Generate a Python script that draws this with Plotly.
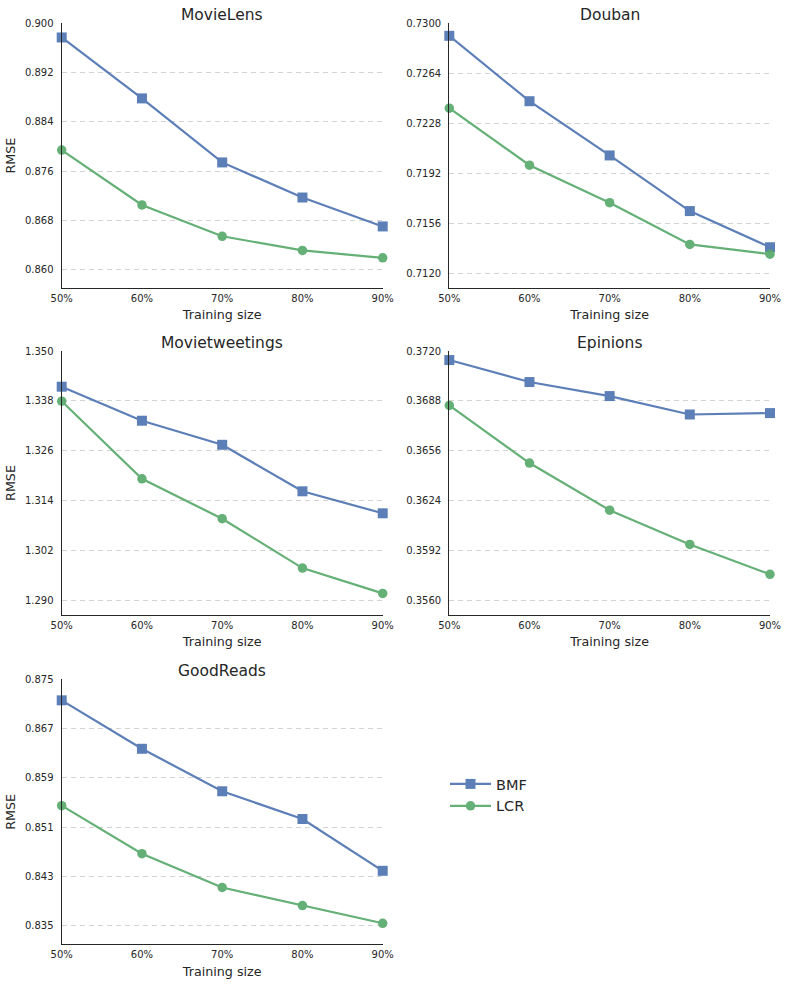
import plotly.graph_objects as go
from plotly.subplots import make_subplots

training_sizes = [50, 60, 70, 80, 90]
x_tick_labels = ["50%", "60%", "70%", "80%", "90%"]
series_names = ["BMF", "LCR"]
dataset_titles = ["MovieLens", "Douban", "Movietweetings", "Epinions", "GoodReads"]

movielens_bmf = [0.8977, 0.8878, 0.8774, 0.8717, 0.8670]
movielens_lcr = [0.8794, 0.8705, 0.8654, 0.8631, 0.8619]
douban_bmf = [0.7291, 0.7244, 0.7205, 0.7165, 0.7139]
douban_lcr = [0.7239, 0.7198, 0.7171, 0.7141, 0.7134]
movietweetings_bmf = [1.3414, 1.3332, 1.3274, 1.3162, 1.3109]
movietweetings_lcr = [1.3379, 1.3192, 1.3096, 1.2977, 1.2916]
epinions_bmf = [0.37142, 0.37001, 0.36911, 0.36793, 0.36802]
epinions_lcr = [0.36851, 0.36482, 0.36180, 0.35960, 0.35769]
goodreads_bmf = [0.87159, 0.86373, 0.85684, 0.85234, 0.84394]
goodreads_lcr = [0.85451, 0.84671, 0.84123, 0.83831, 0.83543]

movielens_ticks = ["0.860", "0.868", "0.876", "0.884", "0.892", "0.900"]
douban_ticks = ["0.7120", "0.7156", "0.7192", "0.7228", "0.7264", "0.7300"]
movietweetings_ticks = ["1.290", "1.302", "1.314", "1.326", "1.338", "1.350"]
epinions_ticks = ["0.3560", "0.3592", "0.3624", "0.3656", "0.3688", "0.3720"]
goodreads_ticks = ["0.835", "0.843", "0.851", "0.859", "0.867", "0.875"]

movielens_range = [0.8570, 0.9000]
douban_range = [0.71097, 0.7300]
movietweetings_range = [1.2864, 1.3500]
epinions_range = [0.35508, 0.3720]
goodreads_range = [0.83202, 0.8750]

panels = [
    (movielens_bmf, movielens_lcr, movielens_ticks, movielens_range),
    (douban_bmf, douban_lcr, douban_ticks, douban_range),
    (movietweetings_bmf, movietweetings_lcr, movietweetings_ticks, movietweetings_range),
    (epinions_bmf, epinions_lcr, epinions_ticks, epinions_range),
    (goodreads_bmf, goodreads_lcr, goodreads_ticks, goodreads_range),
]

W, H = 789, 986
blue = "#4C72B0"
green = "#55A868"
FONT = "DejaVu Sans"
TXT = "#262626"

col_px = [(61.7, 382.7), (449.3, 770.0)]
row_px = [(23.3, 288.0), (351.0, 615.0), (679.3, 944.3)]

fig = make_subplots(rows=3, cols=2)

for i, (bmf, lcr, ticks, yr) in enumerate(panels):
    r, c = i // 2, i % 2
    fig.add_trace(go.Scatter(
        x=training_sizes, y=bmf, name=series_names[0], mode="lines+markers",
        line=dict(color=blue, width=2.2), marker=dict(symbol="square", size=10, color=blue),
        opacity=0.9, cliponaxis=False, showlegend=(i == 0), legendgroup="bmf"),
        row=r + 1, col=c + 1)
    fig.add_trace(go.Scatter(
        x=training_sizes, y=lcr, name=series_names[1], mode="lines+markers",
        line=dict(color=green, width=2.2), marker=dict(symbol="circle", size=9.5, color=green),
        opacity=0.9, cliponaxis=False, showlegend=(i == 0), legendgroup="lcr"),
        row=r + 1, col=c + 1)

    x0, x1 = col_px[c]
    y0, y1 = row_px[r]
    xd = [x0 / W, x1 / W]
    yd = [1 - y1 / H, 1 - y0 / H]
    tickvals = [float(t) for t in ticks]
    fig.update_xaxes(
        domain=xd, range=[50, 90], tickvals=training_sizes, ticktext=x_tick_labels,
        automargin=False,
        showgrid=False, zeroline=False, showline=True, linecolor=TXT, linewidth=1.2,
        ticks="outside", ticklen=1, tickcolor="rgba(0,0,0,0)",
        tickfont=dict(family=FONT, size=10, color=TXT),
        title=dict(text="Training size", standoff=7, font=dict(family=FONT, size=12.7, color=TXT)),
        row=r + 1, col=c + 1)
    fig.update_yaxes(
        domain=yd, range=[yr[0], yr[1] + 1e-7], tickvals=tickvals, ticktext=ticks,
        automargin=False,
        showgrid=True, gridcolor="#d3d3d3", gridwidth=1, griddash="5px,4px",
        zeroline=False, showline=True, linecolor=TXT, linewidth=1.2,
        ticks="outside", ticklen=5, tickcolor="rgba(0,0,0,0)",
        tickfont=dict(family=FONT, size=10, color=TXT),
        title=dict(text="RMSE" if c == 0 else "", standoff=6,
                   font=dict(family=FONT, size=12.7, color=TXT)),
        row=r + 1, col=c + 1)

    fig.add_annotation(
        x=(x0 + x1) / 2 / W, y=1 - y0 / H, xref="paper", yref="paper",
        text=dataset_titles[i], showarrow=False, xanchor="center", yanchor="bottom",
        yshift=-3, font=dict(family=FONT, size=15.5, color=TXT))

fig.update_layout(
    width=W, height=H, margin=dict(l=0, r=0, t=0, b=0),
    paper_bgcolor="white", plot_bgcolor="white",
    font=dict(family=FONT, color=TXT),
    legend=dict(x=445 / W, y=1 - 768 / H, xanchor="left", yanchor="top",
                itemwidth=41,
                font=dict(family=FONT, size=14.5, color=TXT),
                bgcolor="rgba(0,0,0,0)", tracegroupgap=0),
)

fig.write_html("out.html", config={"displayModeBar": False},
               post_script="document.body.style.margin='0';")
